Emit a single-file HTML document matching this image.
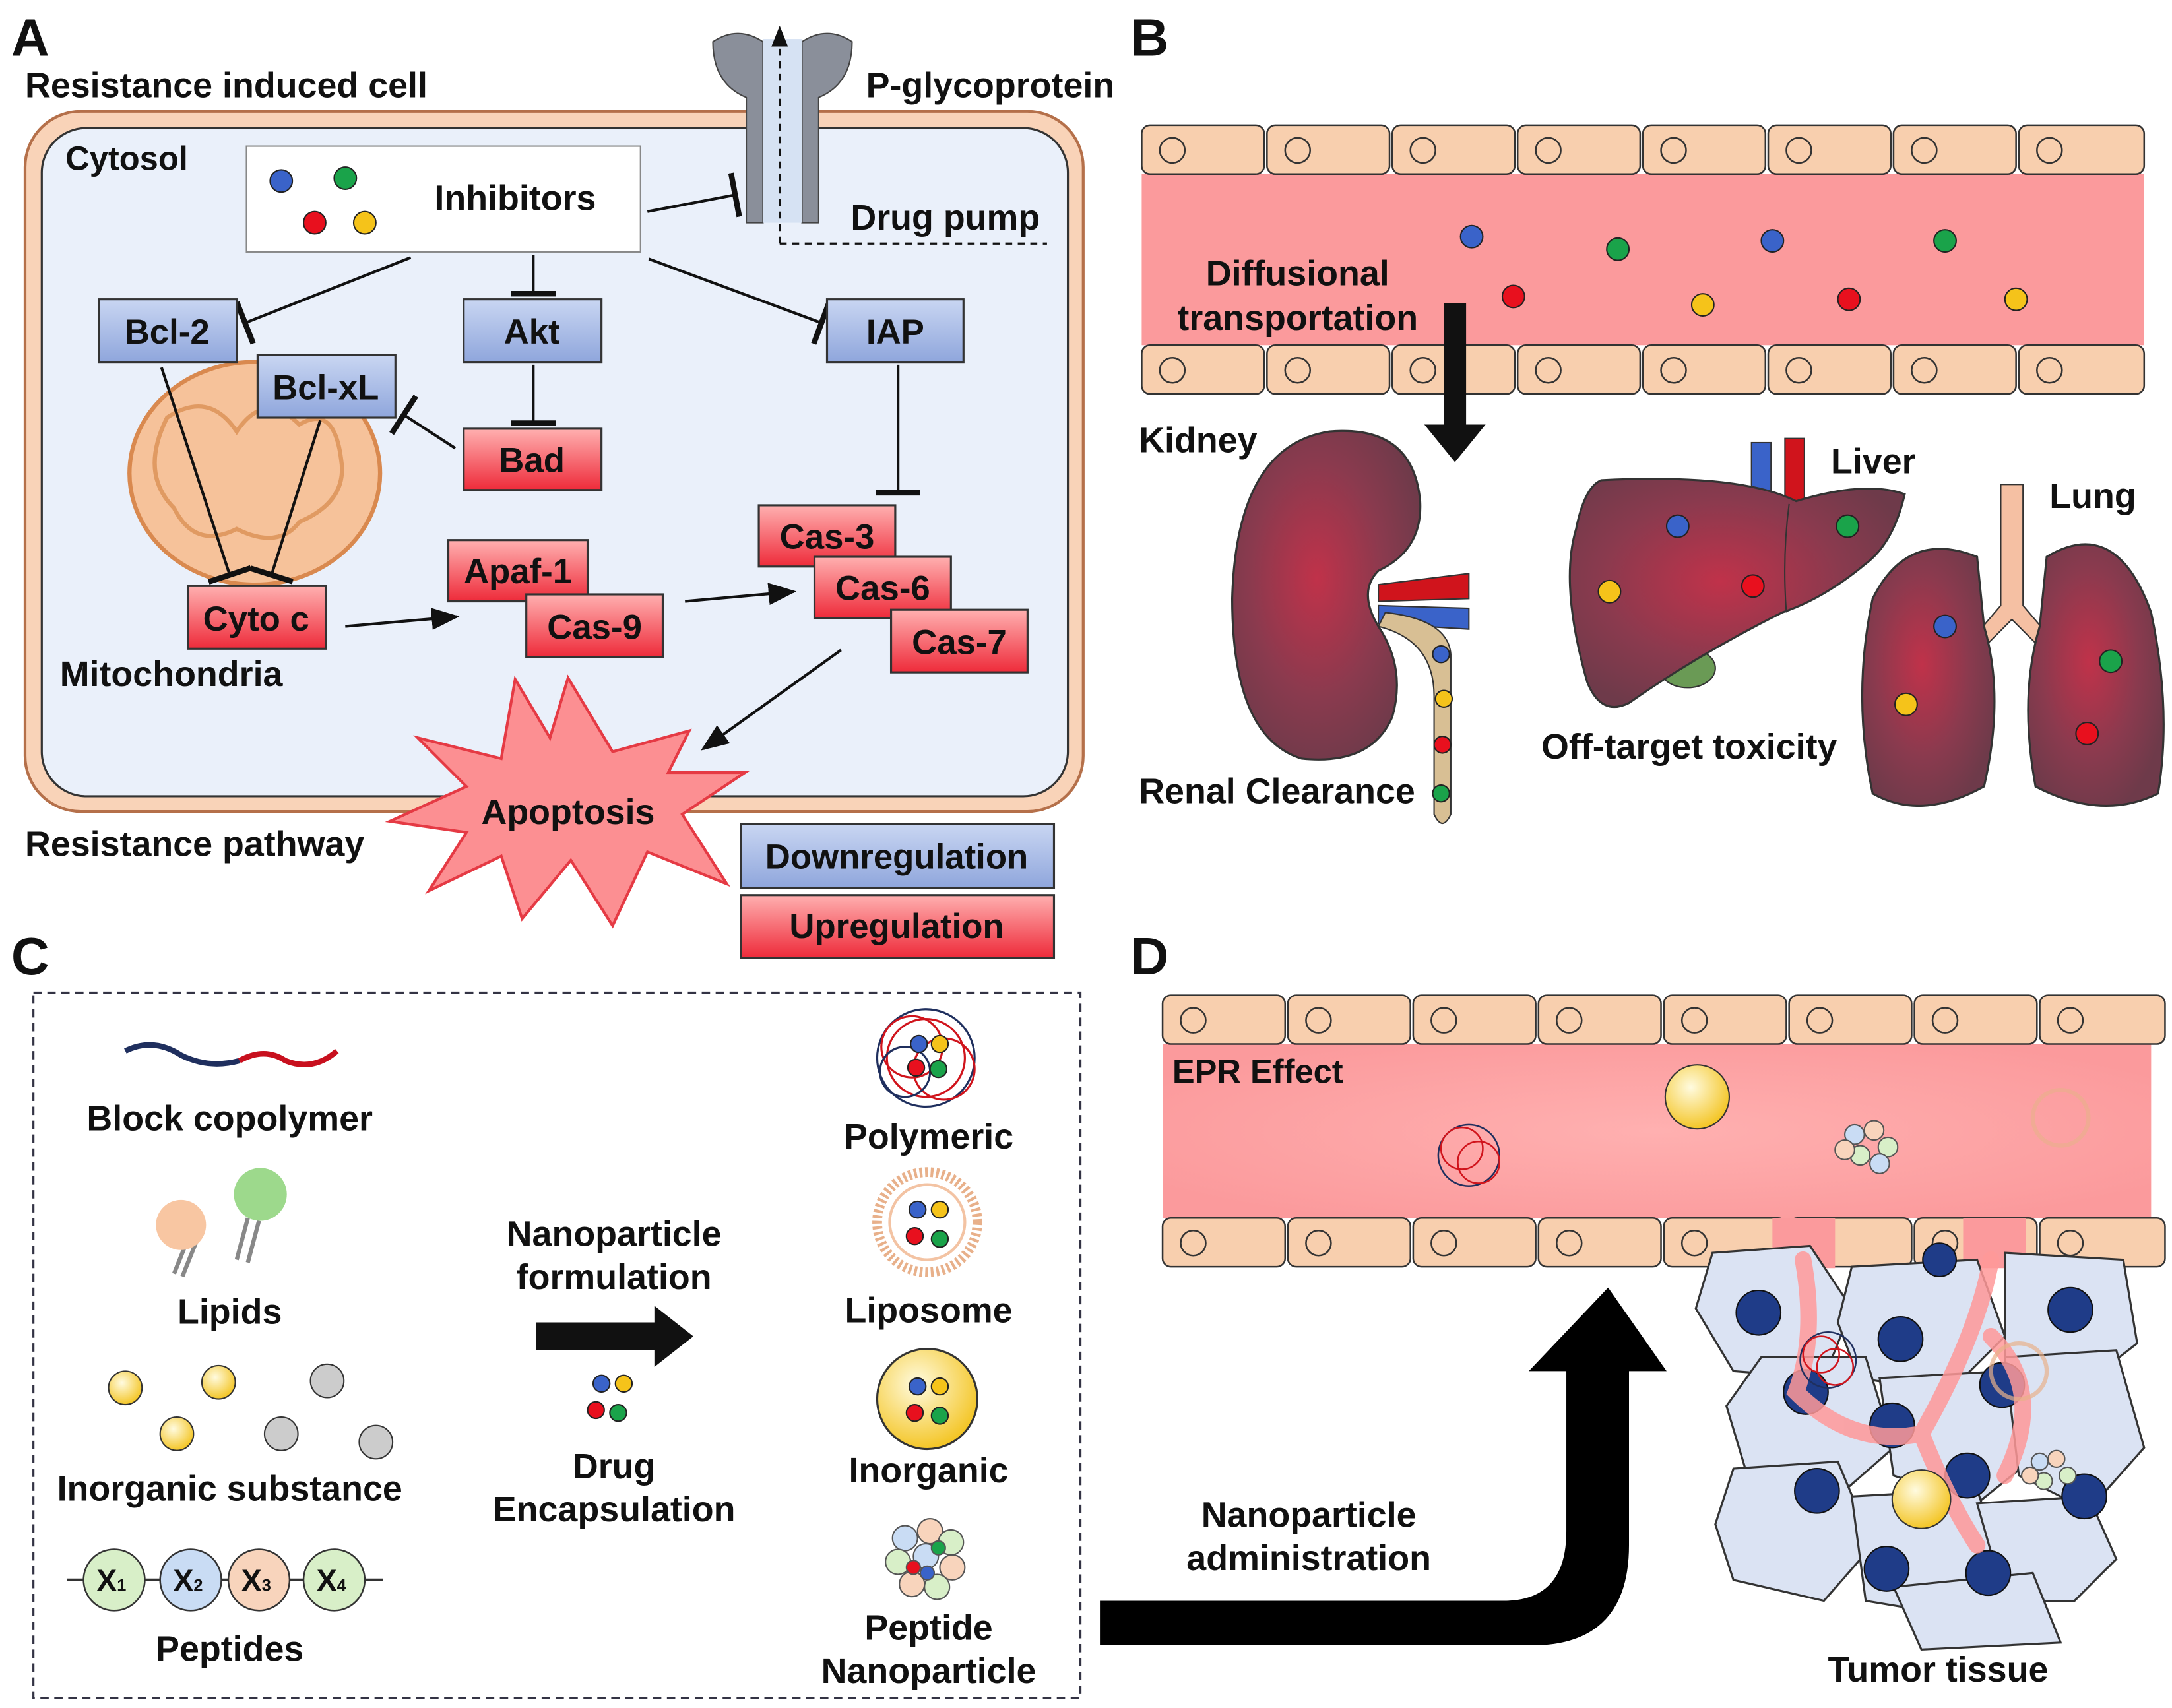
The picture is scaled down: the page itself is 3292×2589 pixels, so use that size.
<!DOCTYPE html>
<html><head><meta charset="utf-8"><style>
html,body{margin:0;padding:0;background:#fff}
svg{display:block}
text{font-family:"Liberation Sans",Arial,sans-serif;font-weight:bold;fill:#111}
</style></head><body>
<svg width="3292" height="2589" viewBox="0 0 1560 1227" preserveAspectRatio="none" xmlns="http://www.w3.org/2000/svg">
<defs>
<linearGradient id="bl" x1="0" y1="0" x2="0" y2="1"><stop offset="0" stop-color="#c9d6f2"/><stop offset="1" stop-color="#8fa6dc"/></linearGradient>
<linearGradient id="rd" x1="0" y1="0" x2="0" y2="1"><stop offset="0" stop-color="#ffb0b0"/><stop offset="1" stop-color="#ee2b3a"/></linearGradient>
<radialGradient id="org" cx="0.45" cy="0.45" r="0.6"><stop offset="0" stop-color="#c0324a"/><stop offset="0.6" stop-color="#8a3a4e"/><stop offset="1" stop-color="#6e3a4a"/></radialGradient>
<radialGradient id="gold" cx="0.4" cy="0.35" r="0.7"><stop offset="0" stop-color="#fffbe0"/><stop offset="1" stop-color="#f3c21a"/></radialGradient>
<radialGradient id="vess" cx="0.5" cy="0.5" r="0.6"><stop offset="0" stop-color="#ffb0b0"/><stop offset="1" stop-color="#fb9a9c"/></radialGradient>
<marker id="ar" markerWidth="10" markerHeight="10" refX="9" refY="5" orient="auto"><path d="M0,1 L10,5 L0,9z" fill="#111"/></marker>
<marker id="tb" markerWidth="4" markerHeight="16" refX="2" refY="8" orient="auto"><path d="M2,0 L2,16" stroke="#111" stroke-width="2"/></marker>
<g id="cellrow">
<g stroke="#333" stroke-width="1.2" fill="#f8cfae">
<rect x="0" y="0" width="88" height="35" rx="6"/><rect x="90" y="0" width="88" height="35" rx="6"/><rect x="180" y="0" width="88" height="35" rx="6"/><rect x="270" y="0" width="88" height="35" rx="6"/><rect x="360" y="0" width="88" height="35" rx="6"/><rect x="450" y="0" width="88" height="35" rx="6"/><rect x="540" y="0" width="88" height="35" rx="6"/><rect x="630" y="0" width="90" height="35" rx="6"/>
<circle cx="22" cy="18" r="9"/><circle cx="112" cy="18" r="9"/><circle cx="202" cy="18" r="9"/><circle cx="292" cy="18" r="9"/><circle cx="382" cy="18" r="9"/><circle cx="472" cy="18" r="9"/><circle cx="562" cy="18" r="9"/><circle cx="652" cy="18" r="9"/>
</g></g>
</defs>

<!-- ===== PANEL A ===== -->
<text x="8" y="40" font-size="38">A</text>
<text x="18" y="70" font-size="25.5">Resistance induced cell</text>
<rect x="18" y="80" width="760" height="503" rx="40" fill="#f9d3b8" stroke="#b5704a" stroke-width="2"/>
<rect x="30" y="92" width="737" height="480" rx="32" fill="#eaf0fa" stroke="#333" stroke-width="1.5"/>
<text x="47" y="122" font-size="24">Cytosol</text>
<path d="M512,30 Q530,18 548,30 L548,160 L536,160 L536,70 Q512,60 512,30z" fill="#8a8f9a" stroke="#444"/>
<path d="M612,30 Q594,18 576,30 L576,160 L588,160 L588,70 Q612,60 612,30z" fill="#8a8f9a" stroke="#444"/>
<rect x="548" y="28" width="28" height="132" fill="#d6e2f3"/>
<path d="M560,175 L560,20" stroke="#111" stroke-width="1.5" stroke-dasharray="5,4" marker-end="url(#ar)"/>
<path d="M560,175 L752,175" stroke="#111" stroke-width="1.5" stroke-dasharray="5,4"/>
<text x="622" y="70" font-size="25.5">P-glycoprotein</text>
<text x="611" y="165" font-size="25.5">Drug pump</text>
<rect x="177" y="105" width="283" height="76" fill="#fff" stroke="#888"/>
<circle cx="202" cy="130" r="8" fill="#3a63c9" stroke="#222"/><circle cx="248" cy="128" r="8" fill="#1aa34a" stroke="#222"/>
<circle cx="226" cy="160" r="8" fill="#e8101e" stroke="#222"/><circle cx="262" cy="160" r="8" fill="#f5c31a" stroke="#222"/>
<text x="312" y="151" font-size="25.5">Inhibitors</text>
<g stroke="#111" stroke-width="2" fill="none">
<path d="M465,152 L528,140" marker-end="url(#tb)"/>
<path d="M295,185 L176,232" marker-end="url(#tb)"/>
<path d="M383,183 L383,211" marker-end="url(#tb)"/>
<path d="M466,186 L590,232" marker-end="url(#tb)"/>
<path d="M383,262 L383,304" marker-end="url(#tb)"/>
<path d="M327,322 L290,298" marker-end="url(#tb)"/>
<path d="M645,262 L645,354" marker-end="url(#tb)"/>
</g>
<ellipse cx="183" cy="340" rx="90" ry="80" fill="#f6c29a" stroke="#d9894f" stroke-width="3"/>
<path d="M120,300 Q150,280 170,310 Q190,280 215,305 Q240,290 245,330 Q250,360 215,375 Q200,395 170,380 Q140,395 125,365 Q100,340 120,300z" fill="none" stroke="#e09a62" stroke-width="3"/>
<text x="43" y="493" font-size="25.5">Mitochondria</text>
<g stroke="#111" stroke-width="2" fill="none">
<path d="M116,264 L165,413" marker-end="url(#tb)"/>
<path d="M230,302 L195,413" marker-end="url(#tb)"/>
<path d="M248,450 L328,443" marker-end="url(#ar)"/>
<path d="M492,432 L570,425" marker-end="url(#ar)"/>
<path d="M604,467 L505,538" marker-end="url(#ar)"/>
</g>
<g stroke="#333" stroke-width="1.5">
<rect x="71" y="215" width="99" height="45" fill="url(#bl)"/>
<rect x="333" y="215" width="99" height="45" fill="url(#bl)"/>
<rect x="594" y="215" width="98" height="45" fill="url(#bl)"/>
<rect x="185" y="255" width="99" height="45" fill="url(#bl)"/>
<rect x="333" y="308" width="99" height="44" fill="url(#rd)"/>
<rect x="322" y="388" width="100" height="44" fill="url(#rd)"/>
<rect x="378" y="427" width="98" height="45" fill="url(#rd)"/>
<rect x="135" y="421" width="99" height="45" fill="url(#rd)"/>
<rect x="545" y="363" width="98" height="44" fill="url(#rd)"/>
<rect x="585" y="400" width="98" height="44" fill="url(#rd)"/>
<rect x="640" y="438" width="98" height="45" fill="url(#rd)"/>
</g>
<g font-size="25" text-anchor="middle">
<text x="120" y="247">Bcl-2</text><text x="382" y="247">Akt</text><text x="643" y="247">IAP</text>
<text x="234" y="287">Bcl-xL</text><text x="382" y="339">Bad</text><text x="372" y="419">Apaf-1</text>
<text x="427" y="459">Cas-9</text><text x="184" y="453">Cyto c</text><text x="594" y="394">Cas-3</text>
<text x="634" y="431">Cas-6</text><text x="689" y="470">Cas-7</text>
</g>
<path d="M408,487 L440,540 L495,525 L480,555 L535,555 L490,585 L522,635 L465,612 L440,665 L410,618 L375,660 L360,615 L308,640 L335,598 L280,590 L335,565 L300,530 L360,545 L370,488 L395,530z" fill="#fc8f92" stroke="#e53a44" stroke-width="2"/>
<text x="408" y="592" font-size="25.5" text-anchor="middle">Apoptosis</text>
<text x="18" y="615" font-size="25.5">Resistance pathway</text>
<rect x="532" y="592" width="225" height="46" fill="url(#bl)" stroke="#333" stroke-width="1.5"/>
<rect x="532" y="643" width="225" height="45" fill="url(#rd)" stroke="#333" stroke-width="1.5"/>
<text x="644" y="624" font-size="25" text-anchor="middle">Downregulation</text>
<text x="644" y="674" font-size="25" text-anchor="middle">Upregulation</text>

<!-- ===== PANEL B ===== -->
<text x="812" y="40" font-size="38">B</text>
<rect x="820" y="125" width="720" height="123" fill="#fb9a9c"/>
<use href="#cellrow" x="820" y="90"/>
<use href="#cellrow" x="820" y="248"/>
<g stroke="#222">
<circle cx="1057" cy="170" r="8" fill="#3a63c9"/><circle cx="1162" cy="179" r="8" fill="#1aa34a"/><circle cx="1273" cy="173" r="8" fill="#3a63c9"/><circle cx="1397" cy="173" r="8" fill="#1aa34a"/>
<circle cx="1087" cy="213" r="8" fill="#e8101e"/><circle cx="1223" cy="219" r="8" fill="#f5c31a"/><circle cx="1328" cy="215" r="8" fill="#e8101e"/><circle cx="1448" cy="215" r="8" fill="#f5c31a"/>
</g>
<text x="932" y="205" font-size="25.5" text-anchor="middle">Diffusional</text>
<text x="932" y="237" font-size="25.5" text-anchor="middle">transportation</text>
<path d="M1037,218 L1053,218 L1053,305 L1067,305 L1045,332 L1023,305 L1037,305z" fill="#111"/>
<text x="818" y="325" font-size="25.5">Kidney</text>
<path d="M990,420 L1055,412 L1055,430 L990,432z" fill="#d0141c" stroke="#333"/>
<path d="M990,435 L1055,437 L1055,452 L990,448z" fill="#3a63c9" stroke="#333"/>
<path d="M990,450 Q1030,460 1030,500 L1030,585 Q1036,598 1042,585 L1042,470 Q1040,445 995,440z" fill="#d8bf94" stroke="#333"/>
<path d="M955,310 Q1015,305 1020,360 Q1022,395 990,410 Q975,425 990,450 Q1010,480 1000,515 Q985,550 935,545 Q885,530 885,430 Q888,320 955,310z" fill="url(#org)" stroke="#333" stroke-width="1.5"/>
<g stroke="#222"><circle cx="1035" cy="470" r="6" fill="#3a63c9"/><circle cx="1037" cy="502" r="6" fill="#f5c31a"/><circle cx="1036" cy="535" r="6" fill="#e8101e"/><circle cx="1035" cy="570" r="6" fill="#1aa34a"/></g>
<text x="818" y="577" font-size="25.5">Renal Clearance</text>
<rect x="1258" y="318" width="14" height="40" fill="#3a63c9" stroke="#333"/><rect x="1282" y="315" width="14" height="45" fill="#d0141c" stroke="#333"/>
<ellipse cx="1212" cy="480" rx="20" ry="14" fill="#6a9a55" stroke="#333"/>
<path d="M1150,345 Q1250,340 1290,360 Q1340,345 1368,355 Q1360,390 1340,405 Q1310,430 1280,440 Q1220,470 1170,505 Q1150,515 1140,490 Q1120,420 1132,380 Q1138,350 1150,345z" fill="url(#org)" stroke="#333" stroke-width="1.5"/>
<path d="M1285,362 Q1280,400 1283,440" stroke="#333" fill="none"/>
<g stroke="#222"><circle cx="1205" cy="378" r="8" fill="#3a63c9"/><circle cx="1327" cy="378" r="8" fill="#1aa34a"/><circle cx="1156" cy="425" r="8" fill="#f5c31a"/><circle cx="1259" cy="421" r="8" fill="#e8101e"/></g>
<text x="1315" y="340" font-size="25.5">Liver</text>
<path d="M1437,348 L1453,348 L1453,435 L1470,455 L1462,462 L1445,445 L1428,462 L1420,455 L1437,435z" fill="#f5c0a3" stroke="#333"/>
<path d="M1420,400 Q1370,380 1345,430 Q1330,500 1345,570 Q1380,590 1425,565 Q1440,500 1425,450z" fill="url(#org)" stroke="#333" stroke-width="1.5"/>
<path d="M1470,400 Q1520,370 1545,440 Q1560,510 1550,570 Q1510,590 1462,565 Q1450,500 1465,450z" fill="url(#org)" stroke="#333" stroke-width="1.5"/>
<g stroke="#222"><circle cx="1397" cy="450" r="8" fill="#3a63c9"/><circle cx="1516" cy="475" r="8" fill="#1aa34a"/><circle cx="1369" cy="506" r="8" fill="#f5c31a"/><circle cx="1499" cy="527" r="8" fill="#e8101e"/></g>
<text x="1472" y="365" font-size="25.5">Lung</text>
<text x="1107" y="545" font-size="25.5">Off-target toxicity</text>

<!-- ===== PANEL C ===== -->
<text x="8" y="700" font-size="38">C</text>
<rect x="24" y="713" width="752" height="507" fill="none" stroke="#334" stroke-width="1.5" stroke-dasharray="6,4"/>
<path d="M90,755 Q110,745 130,758 Q150,768 172,762" stroke="#1f2f5e" stroke-width="4" fill="none"/>
<path d="M172,762 Q190,752 205,762 Q225,770 242,755" stroke="#c8101e" stroke-width="4" fill="none"/>
<text x="165" y="812" font-size="25.5" text-anchor="middle">Block copolymer</text>
<path d="M135,890 L125,915 M141,892 L131,917 M178,875 L170,905 M186,877 L178,907" stroke="#888" stroke-width="3"/>
<circle cx="130" cy="880" r="18" fill="#f8c6a2"/><circle cx="187" cy="858" r="19" fill="#9dd98c"/>
<text x="165" y="951" font-size="25.5" text-anchor="middle">Lipids</text>
<g fill="url(#gold)" stroke="#333"><circle cx="90" cy="997" r="12"/><circle cx="157" cy="993" r="12"/><circle cx="127" cy="1030" r="12"/></g>
<g fill="#ccc" stroke="#333"><circle cx="235" cy="992" r="12"/><circle cx="202" cy="1030" r="12"/><circle cx="270" cy="1036" r="12"/></g>
<text x="165" y="1078" font-size="25.5" text-anchor="middle">Inorganic substance</text>
<path d="M48,1135 L275,1135" stroke="#333" stroke-width="2"/>
<g stroke="#333" stroke-width="1.2"><circle cx="82" cy="1135" r="22" fill="#d8efc8"/><circle cx="137" cy="1135" r="22" fill="#c9dcf4"/><circle cx="186" cy="1135" r="22" fill="#f8d4bc"/><circle cx="240" cy="1135" r="22" fill="#d8efc8"/></g>
<g font-size="22" text-anchor="middle"><text x="80" y="1143">X<tspan font-size="12">1</tspan></text><text x="135" y="1143">X<tspan font-size="12">2</tspan></text><text x="184" y="1143">X<tspan font-size="12">3</tspan></text><text x="238" y="1143">X<tspan font-size="12">4</tspan></text></g>
<text x="165" y="1193" font-size="25.5" text-anchor="middle">Peptides</text>
<text x="441" y="895" font-size="25.5" text-anchor="middle">Nanoparticle</text>
<text x="441" y="926" font-size="25.5" text-anchor="middle">formulation</text>
<path d="M385,950 L470,950 L470,938 L498,960 L470,982 L470,970 L385,970z" fill="#111"/>
<g stroke="#222"><circle cx="432" cy="994" r="6" fill="#3a63c9"/><circle cx="448" cy="994" r="6" fill="#f5c31a"/><circle cx="428" cy="1013" r="6" fill="#e8101e"/><circle cx="444" cy="1015" r="6" fill="#1aa34a"/></g>
<text x="441" y="1062" font-size="25.5" text-anchor="middle">Drug</text>
<text x="441" y="1093" font-size="25.5" text-anchor="middle">Encapsulation</text>
<g fill="none" stroke-width="1.5"><circle cx="665" cy="760" r="35" stroke="#1f2f5e"/><circle cx="655" cy="752" r="22" stroke="#d0141c"/><circle cx="678" cy="768" r="22" stroke="#d0141c"/><circle cx="665" cy="760" r="28" stroke="#d0141c"/><circle cx="650" cy="770" r="18" stroke="#1f2f5e"/></g>
<g stroke="#222"><circle cx="660" cy="750" r="6" fill="#3a63c9"/><circle cx="675" cy="750" r="6" fill="#f5c31a"/><circle cx="658" cy="767" r="6" fill="#e8101e"/><circle cx="674" cy="768" r="6" fill="#1aa34a"/></g>
<text x="667" y="825" font-size="25.5" text-anchor="middle">Polymeric</text>
<circle cx="666" cy="878" r="36" fill="#fff" stroke="#e8b08a" stroke-width="7" stroke-dasharray="2,2"/>
<circle cx="666" cy="878" r="27" fill="#fff" stroke="#f3c3a3" stroke-width="2"/>
<g stroke="#222"><circle cx="659" cy="869" r="6" fill="#3a63c9"/><circle cx="675" cy="869" r="6" fill="#f5c31a"/><circle cx="657" cy="888" r="6" fill="#e8101e"/><circle cx="675" cy="890" r="6" fill="#1aa34a"/></g>
<text x="667" y="950" font-size="25.5" text-anchor="middle">Liposome</text>
<circle cx="666" cy="1005" r="36" fill="url(#gold)" stroke="#333" stroke-width="1.5"/>
<g stroke="#222"><circle cx="659" cy="996" r="6" fill="#3a63c9"/><circle cx="675" cy="996" r="6" fill="#f5c31a"/><circle cx="657" cy="1015" r="6" fill="#e8101e"/><circle cx="675" cy="1017" r="6" fill="#1aa34a"/></g>
<text x="667" y="1065" font-size="25.5" text-anchor="middle">Inorganic</text>
<g stroke="#555"><circle cx="650" cy="1105" r="9" fill="#c9dcf4"/><circle cx="668" cy="1100" r="9" fill="#f8d4bc"/><circle cx="683" cy="1108" r="9" fill="#d8efc8"/><circle cx="645" cy="1122" r="9" fill="#d8efc8"/><circle cx="665" cy="1118" r="9" fill="#c9dcf4"/><circle cx="684" cy="1126" r="9" fill="#f8d4bc"/><circle cx="655" cy="1138" r="9" fill="#f8d4bc"/><circle cx="673" cy="1140" r="9" fill="#d8efc8"/>
<circle cx="656" cy="1126" r="5" fill="#e8101e"/><circle cx="674" cy="1112" r="5" fill="#1aa34a"/><circle cx="666" cy="1130" r="5" fill="#3a63c9"/></g>
<text x="667" y="1178" font-size="25.5" text-anchor="middle">Peptide</text>
<text x="667" y="1209" font-size="25.5" text-anchor="middle">Nanoparticle</text>

<!-- ===== PANEL D ===== -->
<text x="812" y="700" font-size="38">D</text>
<rect x="835" y="750" width="710" height="125" fill="url(#vess)"/>
<use href="#cellrow" x="835" y="715"/>
<g transform="translate(835,875)"><use href="#cellrow"/></g>
<rect x="1273" y="875" width="45" height="36" fill="#fb9a9c"/><rect x="1410" y="875" width="45" height="36" fill="#fb9a9c"/>
<text x="842" y="778" font-size="24">EPR Effect</text>
<g fill="none" stroke-width="1.2"><circle cx="1055" cy="830" r="22" stroke="#1f2f5e"/><circle cx="1050" cy="825" r="15" stroke="#d0141c"/><circle cx="1062" cy="835" r="15" stroke="#d0141c"/></g>
<circle cx="1219" cy="788" r="23" fill="url(#gold)" stroke="#333"/>
<g stroke="#555"><circle cx="1332" cy="815" r="7" fill="#c9dcf4"/><circle cx="1346" cy="812" r="7" fill="#f8d4bc"/><circle cx="1356" cy="824" r="7" fill="#d8efc8"/><circle cx="1336" cy="830" r="7" fill="#d8efc8"/><circle cx="1350" cy="836" r="7" fill="#c9dcf4"/><circle cx="1325" cy="826" r="7" fill="#f8d4bc"/></g>
<circle cx="1480" cy="803" r="20" fill="none" stroke="#e8b08a" stroke-width="3" opacity="0.6"/>
<g stroke="#333" stroke-width="1.5" fill="#dbe3f3">
<path d="M1230,900 L1300,895 L1330,940 L1310,990 L1245,985 L1218,940z"/>
<path d="M1330,910 L1420,905 L1440,960 L1400,1000 L1335,990 L1320,950z"/>
<path d="M1440,900 L1525,905 L1535,965 L1490,1000 L1440,985z"/>
<path d="M1265,975 L1340,975 L1360,1040 L1320,1075 L1255,1060 L1240,1010z"/>
<path d="M1350,990 L1440,985 L1470,1040 L1420,1080 L1360,1060z"/>
<path d="M1440,975 L1520,970 L1540,1040 L1500,1085 L1450,1060z"/>
<path d="M1245,1055 L1320,1050 L1345,1110 L1310,1150 L1245,1135 L1232,1095z"/>
<path d="M1330,1075 L1420,1070 L1440,1130 L1400,1160 L1340,1150z"/>
<path d="M1420,1080 L1500,1075 L1520,1120 L1490,1150 L1440,1150z"/>
<path d="M1360,1140 L1460,1130 L1480,1180 L1380,1185z"/>
</g>
<g fill="#1f3c88" stroke="#111"><circle cx="1263" cy="943" r="16"/><circle cx="1365" cy="962" r="16"/><circle cx="1487" cy="941" r="16"/><circle cx="1297" cy="1000" r="16"/><circle cx="1359" cy="1024" r="16"/><circle cx="1438" cy="995" r="16"/><circle cx="1497" cy="1075" r="16"/><circle cx="1305" cy="1071" r="16"/><circle cx="1413" cy="1060" r="16"/><circle cx="1355" cy="1127" r="16"/><circle cx="1428" cy="1130" r="16"/><circle cx="1393" cy="905" r="12"/></g>
<g fill="none" stroke="#f99" stroke-width="12" opacity="0.85" stroke-linecap="round">
<path d="M1295,905 Q1305,960 1290,1000 Q1330,1040 1380,1030 Q1400,1080 1420,1110"/>
<path d="M1430,905 Q1420,960 1380,1030"/>
<path d="M1430,960 Q1470,1000 1440,1060"/>
</g>
<g fill="none" stroke-width="1.2"><circle cx="1313" cy="977" r="20" stroke="#1f2f5e"/><circle cx="1308" cy="973" r="13" stroke="#d0141c"/><circle cx="1318" cy="982" r="13" stroke="#d0141c"/></g>
<circle cx="1450" cy="985" r="20" fill="none" stroke="#e8b08a" stroke-width="3" opacity="0.7"/>
<circle cx="1380" cy="1077" r="21" fill="url(#gold)" stroke="#333"/>
<g stroke="#555"><circle cx="1465" cy="1050" r="6" fill="#c9dcf4"/><circle cx="1477" cy="1048" r="6" fill="#f8d4bc"/><circle cx="1485" cy="1060" r="6" fill="#d8efc8"/><circle cx="1468" cy="1064" r="6" fill="#d8efc8"/><circle cx="1458" cy="1060" r="6" fill="#f8d4bc"/></g>
<text x="1392" y="1208" font-size="25.5" text-anchor="middle">Tumor tissue</text>
<path d="M790,1150 L1080,1150 Q1125,1150 1125,1100 L1125,985 L1098,985 L1155,925 L1197,985 L1170,985 L1170,1110 Q1170,1182 1100,1182 L790,1182z" fill="#000"/>
<text x="940" y="1097" font-size="25.5" text-anchor="middle">Nanoparticle</text>
<text x="940" y="1128" font-size="25.5" text-anchor="middle">administration</text>
</svg>
</body></html>
